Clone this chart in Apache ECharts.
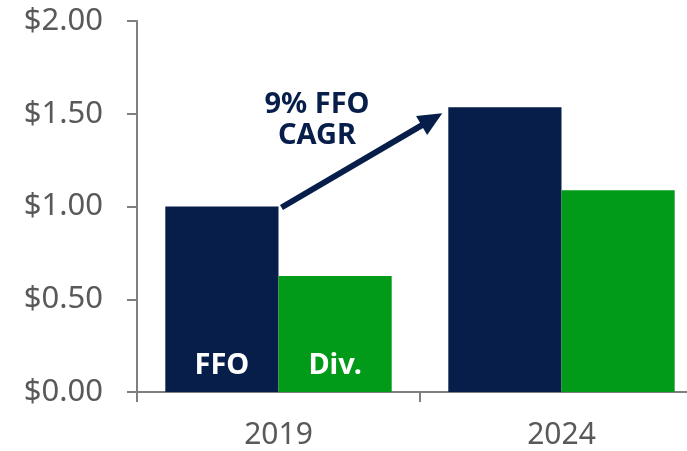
<!DOCTYPE html>
<html>
<head>
<meta charset="utf-8">
<script src="https://cdn.jsdelivr.net/npm/echarts@6/dist/echarts.min.js"></script>
<style>
    html, body { margin: 0; padding: 0; background: #fff; }
    #chart { width: 687px; height: 451px; }
</style>
</head>
<body>
<div id="chart"></div>
<script>
// data
var years = ['2019', '2024'];
var ffo = [1.00, 1.535];
var div = [0.625, 1.088];
var yTicks = [0, 0.5, 1.0, 1.5, 2.0];
var cagrText = '9% FFO\nCAGR';

var navy = '#061e49';
var green = '#029a19';
var fontName = 'Noto Sans';

var chart = echarts.init(document.getElementById('chart'));

chart.setOption({
    animation: false,
    grid: { left: 137, top: 21, width: 566, height: 371, outerBoundsMode: 'none', containLabel: false },
    xAxis: {
        type: 'category',
        data: years,
        axisLine: { lineStyle: { color: '#7f7f7f', width: 2 } },
        axisTick: { show: true, length: 10, lineStyle: { color: '#7f7f7f', width: 2 } },
        axisLabel: { color: '#595959', fontSize: 30, fontFamily: fontName, margin: 28 }
    },
    yAxis: {
        type: 'value',
        min: yTicks[0],
        max: yTicks[yTicks.length - 1],
        interval: 0.5,
        splitLine: { show: false },
        axisLine: { show: true, lineStyle: { color: '#7f7f7f', width: 2 } },
        axisTick: { show: true, length: 10, lineStyle: { color: '#7f7f7f', width: 2 } },
        axisLabel: {
            color: '#595959', fontSize: 31, fontFamily: fontName, margin: 34,
            formatter: function (v) { return '$' + v.toFixed(2); }
        }
    },
    series: [
        {
            name: 'FFO',
            type: 'bar',
            data: ffo.map(function (v, i) {
                return { value: v, label: { show: i === 0 } };
            }),
            itemStyle: { color: navy },
            barGap: '0%',
            barCategoryGap: '20%',
            label: {
                position: 'insideBottom', distance: 12,
                formatter: 'FFO', color: '#fff', fontWeight: 'bold',
                fontSize: 29, fontFamily: fontName
            }
        },
        {
            name: 'Div.',
            type: 'bar',
            data: div.map(function (v, i) {
                return { value: v, label: { show: i === 0 } };
            }),
            itemStyle: { color: green },
            label: {
                position: 'insideBottom', distance: 12,
                formatter: 'Div.', color: '#fff', fontWeight: 'bold',
                fontSize: 29, fontFamily: fontName
            }
        }
    ]
});

// CAGR arrow: from top-right of 2019 FFO bar to top-left of 2024 FFO bar
var p0 = chart.convertToPixel({ seriesIndex: 0 }, [0, ffo[0]]);
var p1 = chart.convertToPixel({ seriesIndex: 0 }, [1, ffo[1]]);
var barW = (p1[0] - p0[0]) * 0.4;
var x0 = p0[0] + 3, y0 = p0[1] + 1;
var x1 = p1[0] - barW - 6, y1 = p1[1] + 6;
var ang = Math.atan2(y1 - y0, x1 - x0);
var headLen = 24, headW = 11;
var bx = x1 - headLen * Math.cos(ang), by = y1 - headLen * Math.sin(ang);
var nx = -Math.sin(ang), ny = Math.cos(ang);

chart.setOption({
    graphic: [
        {
            type: 'line', z: 100,
            shape: { x1: x0, y1: y0, x2: bx + 2 * Math.cos(ang), y2: by + 2 * Math.sin(ang) },
            style: { stroke: navy, lineWidth: 6 }
        },
        {
            type: 'polygon', z: 100,
            shape: { points: [[x1, y1], [bx + nx * headW, by + ny * headW], [bx - nx * headW, by - ny * headW]] },
            style: { fill: navy }
        },
        {
            type: 'text', z: 100,
            x: 317, y: 120,
            style: {
                text: cagrText, fill: navy, fontSize: 29, fontWeight: 'bold',
                fontFamily: fontName, align: 'center', verticalAlign: 'middle', lineHeight: 31
            }
        }
    ]
});
</script>
</body>
</html>
